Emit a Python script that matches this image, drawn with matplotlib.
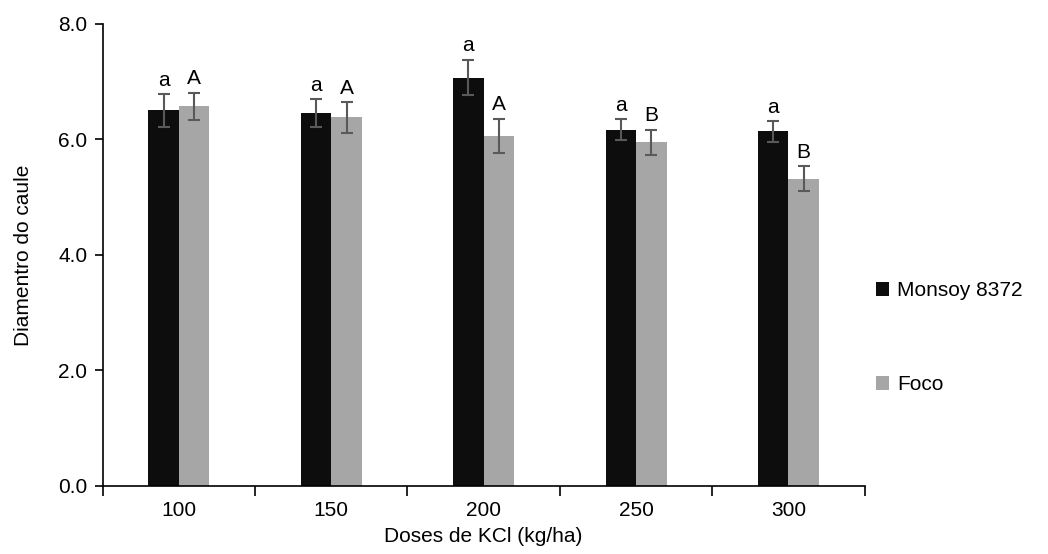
import numpy as np
import matplotlib.pyplot as plt
from matplotlib import rcParams

rcParams['font.family'] = ['Liberation Sans', 'DejaVu Sans']

# dados
doses = ['100', '150', '200', '250', '300']
monsoy = [6.50, 6.46, 7.07, 6.17, 6.14]
monsoy_err = [0.29, 0.24, 0.31, 0.18, 0.18]
monsoy_letras = ['a', 'a', 'a', 'a', 'a']
foco = [6.57, 6.38, 6.06, 5.95, 5.32]
foco_err = [0.24, 0.27, 0.30, 0.22, 0.22]
foco_letras = ['A', 'A', 'A', 'B', 'B']

fs = 15

fig = plt.figure(figsize=(10.48, 5.54), dpi=100)
ax = fig.add_axes([0.098, 0.123, 0.727, 0.834])

x = np.arange(len(doses))
w = 0.2
err_kw = dict(ecolor='#595959', elinewidth=1.5, capsize=4, capthick=1.5)
b1 = ax.bar(x - w / 2, monsoy, w, yerr=monsoy_err, color='#0d0d0d',
            label='Monsoy 8372', error_kw=err_kw)
b2 = ax.bar(x + w / 2, foco, w, yerr=foco_err, color='#a6a6a6',
            label='Foco', error_kw=err_kw)

# letras de significância acima das barras de erro
for xi, v, e, t in zip(x - w / 2, monsoy, monsoy_err, monsoy_letras):
    ax.annotate(t, (xi, v + e), xytext=(0, 3), textcoords='offset points',
                ha='center', va='bottom', fontsize=fs)
for xi, v, e, t in zip(x + w / 2, foco, foco_err, foco_letras):
    ax.annotate(t, (xi, v + e), xytext=(0, 3), textcoords='offset points',
                ha='center', va='bottom', fontsize=fs)

ax.set_xlim(-0.5, len(doses) - 0.5)
ax.set_ylim(0, 8)
ax.set_yticks([0, 2, 4, 6, 8])
ax.set_yticklabels([f'{v:.1f}' for v in [0, 2, 4, 6, 8]], fontsize=fs)
ax.set_xticks(x)
ax.set_xticklabels(doses, fontsize=fs)
ax.set_xticks(np.arange(-0.5, len(doses), 1), minor=True)
ax.tick_params(axis='x', which='major', length=0, pad=11)
ax.tick_params(axis='x', which='minor', length=7, width=1.2, direction='out')
ax.tick_params(axis='y', length=6, width=1.2, direction='out', pad=5)

for s in ['top', 'right']:
    ax.spines[s].set_visible(False)
ax.spines['left'].set_linewidth(1.2)
ax.spines['bottom'].set_linewidth(1.2)

ax.set_xlabel('Doses de KCl (kg/ha)', fontsize=fs)
ax.set_ylabel('Diamentro do caule', fontsize=fs)
ax.xaxis.set_label_coords(0.5, -0.09)
ax.yaxis.set_label_coords(-0.092, 0.5)

fig.legend(handles=[b1, b2], labels=['Monsoy 8372', 'Foco'],
           loc='center left', bbox_to_anchor=(0.818, 0.39), frameon=False,
           fontsize=fs, handlelength=0.6, handleheight=0.6, handletextpad=0.4,
           labelspacing=3.6)

fig.savefig('out.png', dpi=100)
